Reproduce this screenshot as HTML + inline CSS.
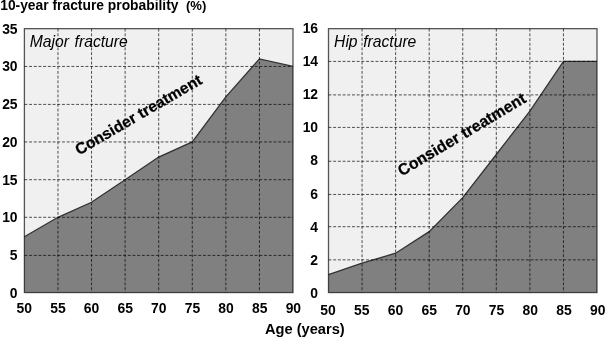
<!DOCTYPE html>
<html><head><meta charset="utf-8"><style>
html,body{margin:0;padding:0;background:#fff;}
body{width:605px;height:338px;overflow:hidden;font-family:"Liberation Sans",sans-serif;}
svg{display:block;will-change:transform;opacity:0.9999}
text{font-family:"Liberation Sans",sans-serif;fill:#000}
.b{font-weight:bold;font-size:13.9px}
.i{font-style:italic;font-size:15.7px;fill:#000;word-spacing:1.2px}
.c{font-weight:bold;stroke:#000;stroke-width:0.25px}
</style></head><body>
<svg width="605" height="338" viewBox="0 0 605 338">
<rect width="605" height="338" fill="#fff"/>
<rect x="24.4" y="28.66" width="268.6" height="263.9" fill="#f0f0f0"/>
<polygon points="24.4,292.56 24.40,236.73 57.98,217.30 91.55,202.26 125.12,179.70 158.70,157.05 192.28,141.95 225.85,96.81 259.43,58.89 293.00,66.45 293.0,292.56" fill="#808080"/>
<polyline points="24.40,236.73 57.98,217.30 91.55,202.26 125.12,179.70 158.70,157.05 192.28,141.95 225.85,96.81 259.43,58.89 293.00,66.45" fill="none" stroke="#333" stroke-width="1.3"/>
<line x1="57.98" y1="28.66" x2="57.98" y2="292.56" stroke="#000" stroke-opacity="0.68" stroke-width="1" stroke-dasharray="2.9,1.8"/>
<line x1="91.55" y1="28.66" x2="91.55" y2="292.56" stroke="#000" stroke-opacity="0.68" stroke-width="1" stroke-dasharray="2.9,1.8"/>
<line x1="125.12" y1="28.66" x2="125.12" y2="292.56" stroke="#000" stroke-opacity="0.68" stroke-width="1" stroke-dasharray="2.9,1.8"/>
<line x1="158.70" y1="28.66" x2="158.70" y2="292.56" stroke="#000" stroke-opacity="0.68" stroke-width="1" stroke-dasharray="2.9,1.8"/>
<line x1="192.28" y1="28.66" x2="192.28" y2="292.56" stroke="#000" stroke-opacity="0.68" stroke-width="1" stroke-dasharray="2.9,1.8"/>
<line x1="225.85" y1="28.66" x2="225.85" y2="292.56" stroke="#000" stroke-opacity="0.68" stroke-width="1" stroke-dasharray="2.9,1.8"/>
<line x1="259.43" y1="28.66" x2="259.43" y2="292.56" stroke="#000" stroke-opacity="0.68" stroke-width="1" stroke-dasharray="2.9,1.8"/>
<line x1="24.4" y1="255.40" x2="293.0" y2="255.40" stroke="#000" stroke-opacity="0.68" stroke-width="1" stroke-dasharray="2.9,1.8"/>
<line x1="24.4" y1="217.30" x2="293.0" y2="217.30" stroke="#000" stroke-opacity="0.68" stroke-width="1" stroke-dasharray="2.9,1.8"/>
<line x1="24.4" y1="179.70" x2="293.0" y2="179.70" stroke="#000" stroke-opacity="0.68" stroke-width="1" stroke-dasharray="2.9,1.8"/>
<line x1="24.4" y1="141.95" x2="293.0" y2="141.95" stroke="#000" stroke-opacity="0.68" stroke-width="1" stroke-dasharray="2.9,1.8"/>
<line x1="24.4" y1="104.40" x2="293.0" y2="104.40" stroke="#000" stroke-opacity="0.68" stroke-width="1" stroke-dasharray="2.9,1.8"/>
<line x1="24.4" y1="66.45" x2="293.0" y2="66.45" stroke="#000" stroke-opacity="0.68" stroke-width="1" stroke-dasharray="2.9,1.8"/>
<rect x="24.4" y="28.66" width="268.6" height="263.9" fill="none" stroke="#000" stroke-opacity="0.66" stroke-width="1.3"/>
<text class="b" x="17.599999999999998" y="297.96" text-anchor="end">0</text>
<text class="b" x="17.599999999999998" y="260.21" text-anchor="end">5</text>
<text class="b" x="17.599999999999998" y="222.46" text-anchor="end">10</text>
<text class="b" x="17.599999999999998" y="184.71" text-anchor="end">15</text>
<text class="b" x="17.599999999999998" y="146.96" text-anchor="end">20</text>
<text class="b" x="17.599999999999998" y="109.21" text-anchor="end">25</text>
<text class="b" x="17.599999999999998" y="71.46" text-anchor="end">30</text>
<text class="b" x="17.599999999999998" y="33.71" text-anchor="end">35</text>
<text class="b" x="24.25" y="313.1" text-anchor="middle">50</text>
<text class="b" x="57.89" y="313.1" text-anchor="middle">55</text>
<text class="b" x="91.53" y="313.1" text-anchor="middle">60</text>
<text class="b" x="125.17" y="313.1" text-anchor="middle">65</text>
<text class="b" x="158.81" y="313.1" text-anchor="middle">70</text>
<text class="b" x="192.45" y="313.1" text-anchor="middle">75</text>
<text class="b" x="226.09" y="313.1" text-anchor="middle">80</text>
<text class="b" x="259.73" y="313.1" text-anchor="middle">85</text>
<text class="b" x="293.37" y="313.1" text-anchor="middle">90</text>
<text class="i" x="29.799999999999997" y="47.1">Major fracture</text>
<text class="c" style="font-size:15.7px" transform="translate(141.1,119.3) rotate(-30.3)" text-anchor="middle">Consider treatment</text>
<rect x="328.5" y="28.66" width="268.5" height="263.9" fill="#f0f0f0"/>
<polygon points="328.5,292.56 328.50,274.57 362.06,263.12 395.62,253.22 429.19,231.67 462.75,197.67 496.31,154.48 529.88,111.15 563.44,61.40 597.00,61.40 597.0,292.56" fill="#808080"/>
<polyline points="328.50,274.57 362.06,263.12 395.62,253.22 429.19,231.67 462.75,197.67 496.31,154.48 529.88,111.15 563.44,61.40 597.00,61.40" fill="none" stroke="#333" stroke-width="1.3"/>
<line x1="362.06" y1="28.66" x2="362.06" y2="292.56" stroke="#000" stroke-opacity="0.68" stroke-width="1" stroke-dasharray="2.9,1.8"/>
<line x1="395.62" y1="28.66" x2="395.62" y2="292.56" stroke="#000" stroke-opacity="0.68" stroke-width="1" stroke-dasharray="2.9,1.8"/>
<line x1="429.19" y1="28.66" x2="429.19" y2="292.56" stroke="#000" stroke-opacity="0.68" stroke-width="1" stroke-dasharray="2.9,1.8"/>
<line x1="462.75" y1="28.66" x2="462.75" y2="292.56" stroke="#000" stroke-opacity="0.68" stroke-width="1" stroke-dasharray="2.9,1.8"/>
<line x1="496.31" y1="28.66" x2="496.31" y2="292.56" stroke="#000" stroke-opacity="0.68" stroke-width="1" stroke-dasharray="2.9,1.8"/>
<line x1="529.88" y1="28.66" x2="529.88" y2="292.56" stroke="#000" stroke-opacity="0.68" stroke-width="1" stroke-dasharray="2.9,1.8"/>
<line x1="563.44" y1="28.66" x2="563.44" y2="292.56" stroke="#000" stroke-opacity="0.68" stroke-width="1" stroke-dasharray="2.9,1.8"/>
<line x1="328.5" y1="259.85" x2="597.0" y2="259.85" stroke="#000" stroke-opacity="0.68" stroke-width="1" stroke-dasharray="2.9,1.8"/>
<line x1="328.5" y1="226.70" x2="597.0" y2="226.70" stroke="#000" stroke-opacity="0.68" stroke-width="1" stroke-dasharray="2.9,1.8"/>
<line x1="328.5" y1="194.45" x2="597.0" y2="194.45" stroke="#000" stroke-opacity="0.68" stroke-width="1" stroke-dasharray="2.9,1.8"/>
<line x1="328.5" y1="161.25" x2="597.0" y2="161.25" stroke="#000" stroke-opacity="0.68" stroke-width="1" stroke-dasharray="2.9,1.8"/>
<line x1="328.5" y1="127.40" x2="597.0" y2="127.40" stroke="#000" stroke-opacity="0.68" stroke-width="1" stroke-dasharray="2.9,1.8"/>
<line x1="328.5" y1="94.90" x2="597.0" y2="94.90" stroke="#000" stroke-opacity="0.68" stroke-width="1" stroke-dasharray="2.9,1.8"/>
<line x1="328.5" y1="61.40" x2="597.0" y2="61.40" stroke="#000" stroke-opacity="0.68" stroke-width="1" stroke-dasharray="2.9,1.8"/>
<rect x="328.5" y="28.66" width="268.5" height="263.9" fill="none" stroke="#000" stroke-opacity="0.66" stroke-width="1.3"/>
<text class="b" x="318.1" y="297.71" text-anchor="end">0</text>
<text class="b" x="318.1" y="264.64" text-anchor="end">2</text>
<text class="b" x="318.1" y="231.58" text-anchor="end">4</text>
<text class="b" x="318.1" y="198.51" text-anchor="end">6</text>
<text class="b" x="318.1" y="165.44" text-anchor="end">8</text>
<text class="b" x="318.1" y="132.37" text-anchor="end">10</text>
<text class="b" x="318.1" y="99.31" text-anchor="end">12</text>
<text class="b" x="318.1" y="66.24" text-anchor="end">14</text>
<text class="b" x="318.1" y="33.17" text-anchor="end">16</text>
<text class="b" x="328.00" y="315.4" text-anchor="middle">50</text>
<text class="b" x="361.72" y="315.4" text-anchor="middle">55</text>
<text class="b" x="395.44" y="315.4" text-anchor="middle">60</text>
<text class="b" x="429.16" y="315.4" text-anchor="middle">65</text>
<text class="b" x="462.88" y="315.4" text-anchor="middle">70</text>
<text class="b" x="496.60" y="315.4" text-anchor="middle">75</text>
<text class="b" x="530.32" y="315.4" text-anchor="middle">80</text>
<text class="b" x="564.04" y="315.4" text-anchor="middle">85</text>
<text class="b" x="597.76" y="315.4" text-anchor="middle">90</text>
<text class="i" x="334.05" y="47.1">Hip fracture</text>
<text class="c" style="font-size:15.95px" transform="translate(464.5,139.0) rotate(-30.8)" text-anchor="middle">Consider treatment</text>
<text class="b" x="0.2" y="10.1" style="font-size:13.83px">10-year fracture probability</text><text class="b" x="185.9" y="10.1" style="font-size:13.1px">(%)</text>
<text class="b" x="304.8" y="334.3" text-anchor="middle" style="font-size:14.65px">Age (years)</text>
</svg></body></html>
